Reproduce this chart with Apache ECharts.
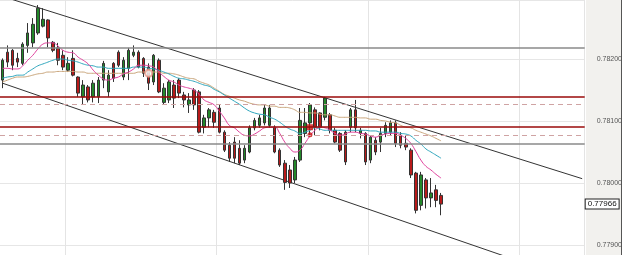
<!DOCTYPE html>
<html>
<head>
<meta charset="utf-8">
<script src="https://cdn.jsdelivr.net/npm/echarts@6/dist/echarts.min.js"></script>
<style>
  html, body { margin: 0; padding: 0; background: #fff; }
  #chart { width: 625px; height: 255px; }
</style>
</head>
<body>
<div id="chart"></div>
<script>
// slots on the time axis (candles plus the empty space on the right)
const slotCount = 116;

const opens = [
  0.78166, 0.78211, 0.78214, 0.78201, 0.78193, 0.78222, 0.78226, 0.78242, 0.78253, 0.78263,
  0.78227, 0.78218, 0.78206, 0.78182, 0.78201, 0.78171, 0.78139, 0.78155, 0.78139, 0.78139,
  0.78166, 0.78147, 0.78193, 0.78211, 0.78171, 0.78185, 0.78206, 0.78211, 0.78201, 0.78187,
  0.78163, 0.78198, 0.78130, 0.78134, 0.78158, 0.78166, 0.78142, 0.78126, 0.78150, 0.78147,
  0.78090, 0.78105, 0.78114, 0.78121, 0.78082, 0.78061, 0.78066, 0.78056, 0.78037, 0.78050,
  0.78089, 0.78093, 0.78097, 0.78093, 0.78090, 0.78053, 0.78032, 0.78021, 0.78005, 0.78037,
  0.78080, 0.78097, 0.78118, 0.78113, 0.78106, 0.78110, 0.78085, 0.78080, 0.78082, 0.78090,
  0.78118, 0.78080, 0.78080, 0.78037, 0.78069, 0.78066, 0.78080, 0.78082, 0.78097, 0.78077,
  0.78064, 0.78053, 0.78016, 0.77964, 0.78005, 0.77976, 0.77989, 0.77980
];
const closes = [
  0.78198, 0.78195, 0.78190, 0.78195, 0.78224, 0.78242, 0.78256, 0.78282, 0.78264, 0.78234,
  0.78214, 0.78198, 0.78187, 0.78193, 0.78174, 0.78145, 0.78158, 0.78134, 0.78161, 0.78166,
  0.78193, 0.78174, 0.78169, 0.78190, 0.78198, 0.78214, 0.78211, 0.78187, 0.78177, 0.78161,
  0.78206, 0.78147, 0.78153, 0.78163, 0.78137, 0.78145, 0.78134, 0.78134, 0.78126, 0.78082,
  0.78105, 0.78118, 0.78098, 0.78082, 0.78053, 0.78040, 0.78040, 0.78032, 0.78056, 0.78089,
  0.78101, 0.78105, 0.78121, 0.78121, 0.78050, 0.78029, 0.78001, 0.78000, 0.78037, 0.78101,
  0.78097, 0.78126, 0.78090, 0.78090, 0.78137, 0.78085, 0.78066, 0.78053, 0.78034, 0.78118,
  0.78089, 0.78085, 0.78034, 0.78074, 0.78050, 0.78080, 0.78093, 0.78097, 0.78064, 0.78061,
  0.78058, 0.78013, 0.77956, 0.78013, 0.77976, 0.77984, 0.77972, 0.77966
];
const lows = [
  0.78153, 0.78187, 0.78182, 0.78187, 0.78190, 0.78210, 0.78219, 0.78239, 0.78251, 0.78219,
  0.78211, 0.78190, 0.78182, 0.78179, 0.78172, 0.78139, 0.78126, 0.78130, 0.78130, 0.78129,
  0.78153, 0.78139, 0.78163, 0.78187, 0.78166, 0.78166, 0.78203, 0.78185, 0.78171, 0.78150,
  0.78158, 0.78145, 0.78127, 0.78129, 0.78121, 0.78137, 0.78122, 0.78113, 0.78118, 0.78080,
  0.78080, 0.78090, 0.78089, 0.78080, 0.78050, 0.78034, 0.78032, 0.78029, 0.78032, 0.78048,
  0.78085, 0.78089, 0.78093, 0.78089, 0.78048, 0.78026, 0.77989, 0.77992, 0.78000, 0.78034,
  0.78074, 0.78074, 0.78077, 0.78085, 0.78101, 0.78080, 0.78064, 0.78050, 0.78029, 0.78082,
  0.78082, 0.78072, 0.78029, 0.78032, 0.78045, 0.78050, 0.78074, 0.78077, 0.78058, 0.78056,
  0.78053, 0.78008, 0.77951, 0.77956, 0.77959, 0.77961, 0.77961, 0.77948
];
const highs = [
  0.78201, 0.78222, 0.78216, 0.78210, 0.78227, 0.78258, 0.78266, 0.78287, 0.78282, 0.78264,
  0.78229, 0.78226, 0.78214, 0.78203, 0.78214, 0.78172, 0.78166, 0.78158, 0.78166, 0.78171,
  0.78197, 0.78182, 0.78195, 0.78214, 0.78203, 0.78218, 0.78222, 0.78214, 0.78203, 0.78193,
  0.78208, 0.78201, 0.78161, 0.78166, 0.78166, 0.78169, 0.78147, 0.78145, 0.78153, 0.78150,
  0.78110, 0.78121, 0.78118, 0.78126, 0.78085, 0.78066, 0.78074, 0.78069, 0.78061, 0.78093,
  0.78105, 0.78110, 0.78126, 0.78126, 0.78093, 0.78056, 0.78037, 0.78029, 0.78042, 0.78121,
  0.78121, 0.78129, 0.78122, 0.78114, 0.78139, 0.78113, 0.78089, 0.78082, 0.78085, 0.78121,
  0.78134, 0.78089, 0.78082, 0.78077, 0.78074, 0.78089, 0.78098, 0.78101, 0.78101, 0.78082,
  0.78077, 0.78056, 0.78018, 0.78018, 0.78008, 0.78008, 0.77997, 0.77984
];

// moving averages as drawn on the chart
const maFast = [
  0.78185, 0.78185, 0.78184, 0.78184, 0.78189, 0.78198, 0.78206, 0.78216, 0.78224, 0.78226,
  0.78226, 0.78221, 0.78214, 0.78211, 0.78210, 0.78203, 0.78198, 0.78192, 0.78182, 0.78174,
  0.78168, 0.78166, 0.78169, 0.78171, 0.78176, 0.78179, 0.78184, 0.78190, 0.78190, 0.78189,
  0.78187, 0.78179, 0.78172, 0.78166, 0.78163, 0.78158, 0.78155, 0.78153, 0.78150, 0.78143,
  0.78134, 0.78130, 0.78126, 0.78116, 0.78105, 0.78093, 0.78089, 0.78082, 0.78077, 0.78076,
  0.78079, 0.78084, 0.78089, 0.78090, 0.78090, 0.78080, 0.78066, 0.78056, 0.78050, 0.78053,
  0.78064, 0.78076, 0.78085, 0.78090, 0.78089, 0.78085, 0.78080, 0.78077, 0.78079, 0.78082,
  0.78082, 0.78080, 0.78079, 0.78076, 0.78074, 0.78077, 0.78079, 0.78080, 0.78080, 0.78077,
  0.78072, 0.78064, 0.78051, 0.78037, 0.78027, 0.78021, 0.78014, 0.78008
];
const maMid = [
  0.78169, 0.78171, 0.78172, 0.78174, 0.78174, 0.78179, 0.78184, 0.78189, 0.78192, 0.78195,
  0.78198, 0.78200, 0.78200, 0.78198, 0.78197, 0.78195, 0.78192, 0.78190, 0.78189, 0.78187,
  0.78187, 0.78185, 0.78185, 0.78185, 0.78185, 0.78185, 0.78187, 0.78187, 0.78187, 0.78185,
  0.78184, 0.78182, 0.78179, 0.78176, 0.78172, 0.78169, 0.78168, 0.78166, 0.78164, 0.78161,
  0.78158, 0.78156, 0.78151, 0.78147, 0.78142, 0.78137, 0.78132, 0.78127, 0.78121, 0.78116,
  0.78113, 0.78111, 0.78110, 0.78106, 0.78103, 0.78098, 0.78092, 0.78087, 0.78084, 0.78080,
  0.78082, 0.78085, 0.78089, 0.78087, 0.78085, 0.78085, 0.78085, 0.78085, 0.78085, 0.78085,
  0.78085, 0.78085, 0.78085, 0.78084, 0.78084, 0.78082, 0.78082, 0.78082, 0.78082, 0.78080,
  0.78079, 0.78076, 0.78069, 0.78063, 0.78055, 0.78050, 0.78045, 0.78040
];
const maSlow = [
  0.78163, 0.78166, 0.78169, 0.78171, 0.78171, 0.78172, 0.78174, 0.78176, 0.78177, 0.78179,
  0.78179, 0.78180, 0.78180, 0.78180, 0.78180, 0.78179, 0.78179, 0.78177, 0.78177, 0.78177,
  0.78177, 0.78177, 0.78177, 0.78177, 0.78177, 0.78177, 0.78177, 0.78179, 0.78179, 0.78179,
  0.78179, 0.78179, 0.78177, 0.78177, 0.78176, 0.78174, 0.78171, 0.78169, 0.78168, 0.78164,
  0.78161, 0.78158, 0.78153, 0.78148, 0.78143, 0.78140, 0.78137, 0.78134, 0.78132, 0.78129,
  0.78127, 0.78126, 0.78126, 0.78124, 0.78124, 0.78122, 0.78122, 0.78121, 0.78118, 0.78114,
  0.78114, 0.78113, 0.78113, 0.78111, 0.78110, 0.78110, 0.78108, 0.78106, 0.78106, 0.78106,
  0.78106, 0.78105, 0.78105, 0.78103, 0.78103, 0.78101, 0.78100, 0.78098, 0.78097, 0.78093,
  0.78090, 0.78089, 0.78085, 0.78082, 0.78079, 0.78076, 0.78072, 0.78068
];

// trend channel, [slot, price] at both ends
const upperChannel = [[0, 0.78301], [115, 0.78007]];
const lowerChannel = [[0, 0.78161], [115, 0.77839]];

// horizontal levels
const grayLevels = [0.78218, 0.78063];
const redLevels = [0.78139, 0.78090];
const dashedLevels = [0.78127, 0.78077];

// markers: [slot, price]
const entrySquare = [[61, 0.78090]];
const entryDot = [[61, 0.78078]];
const ringMark = [[29, 0.78177]];

const priceMin = 0.778839;
const priceMax = 0.782952;

const categories = Array.from({ length: slotCount }, (_, i) => String(i));
const candles = opens.map((o, i) => [o, closes[i], lows[i], highs[i]]);
const lastClose = closes[closes.length - 1];

const levelLines = [
  ...grayLevels.map(v => ({ yAxis: v, lineStyle: { color: '#8a8a8a', width: 1.5, type: 'solid' } })),
  ...redLevels.map(v => ({ yAxis: v, lineStyle: { color: '#9a0a0a', width: 1.5, type: 'solid' } })),
  ...dashedLevels.map(v => ({ yAxis: v, lineStyle: { color: '#cfa3a3', width: 1, type: [5, 4] } }))
];

const chart = echarts.init(document.getElementById('chart'));

chart.setOption({
  animation: false,
  backgroundColor: '#fff',
  grid: { left: -1.5, right: 39, top: 0, bottom: 0 },
  graphic: [
    { type: 'rect', right: 4, top: 0, z: -10, shape: { width: 35, height: 255 }, style: { fill: '#f2f1ee' } },
    { type: 'rect', right: 3, top: 0, z: -10, shape: { width: 1, height: 255 }, style: { fill: '#555' } }
  ],
  xAxis: {
    type: 'category',
    data: categories,
    boundaryGap: true,
    axisLine: { show: false },
    axisTick: { show: false },
    axisLabel: { show: false },
    splitLine: {
      show: true,
      interval: (index) => index % 30 === 13,
      lineStyle: { color: '#e4e4e4', width: 1 }
    }
  },
  yAxis: {
    type: 'value',
    position: 'right',
    min: priceMin,
    max: priceMax,
    splitNumber: 4,
    axisLine: { show: false },
    axisTick: { show: false },
    axisLabel: {
      showMinLabel: false,
      showMaxLabel: false,
      formatter: v => v.toFixed(5),
      color: '#555',
      fontSize: 7,
      margin: 12,
      fontFamily: 'Liberation Sans'
    },
    splitLine: { lineStyle: { color: '#e6e6e6', width: 1 } }
  },
  series: [
    {
      type: 'line',
      data: upperChannel,
      showSymbol: false,
      silent: true,
      lineStyle: { color: '#333', width: 1 },
      z: 1
    },
    {
      type: 'line',
      data: lowerChannel,
      showSymbol: false,
      silent: true,
      lineStyle: { color: '#333', width: 1 },
      z: 1
    },
    {
      type: 'candlestick',
      data: candles,
      barWidth: 3,
      itemStyle: {
        color: '#23882a',
        color0: '#b81a1a',
        borderColor: '#333',
        borderColor0: '#333',
        borderWidth: 1
      },
      markLine: {
        symbol: 'none',
        silent: true,
        precision: 5,
        label: { show: false },
        data: levelLines
      },
      z: 2
    },
    {
      // last price tag on the axis
      type: 'line',
      data: [],
      silent: true,
      markLine: {
        symbol: 'none',
        silent: true,
        precision: 5,
        lineStyle: { color: 'rgba(0,0,0,0)', width: 1 },
        label: {
          show: true,
          position: 'end',
          distance: 1,
          formatter: () => lastClose.toFixed(5),
          backgroundColor: '#fff',
          borderColor: '#222',
          borderWidth: 1,
          padding: [1, 2, 0, 2],
          color: '#111',
          fontSize: 8,
          fontFamily: 'Liberation Sans'
        },
        data: [{ yAxis: lastClose }]
      },
      z: 6
    },
    {
      type: 'line',
      data: maSlow,
      showSymbol: false,
      smooth: true,
      silent: true,
      lineStyle: { color: '#c9a57a', width: 1 },
      z: 3
    },
    {
      type: 'line',
      data: maMid,
      showSymbol: false,
      smooth: true,
      silent: true,
      lineStyle: { color: '#2ea6bd', width: 1 },
      z: 3
    },
    {
      type: 'line',
      data: maFast,
      showSymbol: false,
      smooth: true,
      silent: true,
      lineStyle: { color: '#e0409c', width: 1 },
      z: 3
    },
    {
      type: 'scatter',
      data: entrySquare,
      symbol: 'rect',
      symbolSize: 6,
      itemStyle: { color: '#cc1010' },
      z: 4
    },
    {
      type: 'scatter',
      data: entryDot,
      symbol: 'circle',
      symbolSize: 5,
      itemStyle: { color: '#cc1010' },
      z: 4
    },
    {
      type: 'scatter',
      data: ringMark,
      symbol: 'emptyCircle',
      symbolSize: 7,
      itemStyle: { color: '#e89a88', borderWidth: 1 },
      z: 4
    }
  ]
});
</script>
</body>
</html>
